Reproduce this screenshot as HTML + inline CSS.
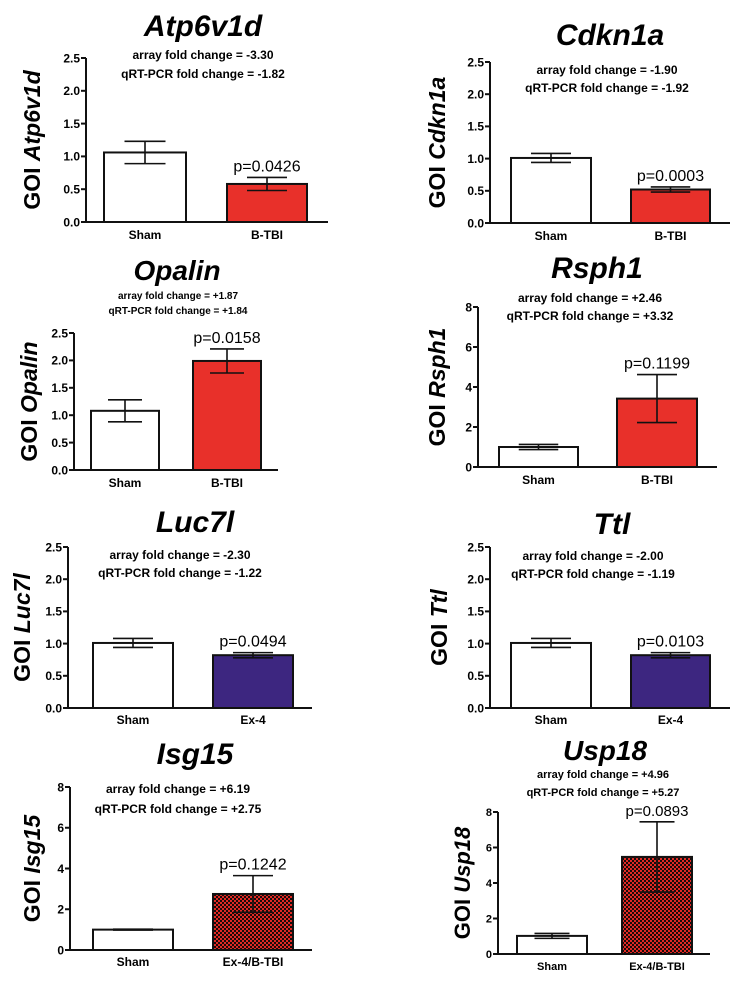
<!DOCTYPE html>
<html><head><meta charset="utf-8"><style>
html,body{margin:0;padding:0;background:#fff;}
svg{display:block;font-family:"Liberation Sans",Arial,sans-serif;}
</style></head><body>
<svg id="fig" width="751" height="986" viewBox="0 0 751 986" xmlns="http://www.w3.org/2000/svg">
<defs>
<pattern id="chk" width="4" height="4" patternUnits="userSpaceOnUse">
<rect width="4" height="4" fill="#e02a24"/><rect width="2" height="2" fill="#1a0a0a"/><rect x="2" y="2" width="2" height="2" fill="#1a0a0a"/>
</pattern>
</defs>
</svg>
<script>
const genes = ["Atp6v1d","Cdkn1a","Opalin","Rsph1","Luc7l","Ttl","Isg15","Usp18"];
const shamMeans = [1.06,1.01,1.08,1.0,1.01,1.01,1.0,1.02];
const shamErrs = [0.17,0.07,0.2,0.13,0.07,0.07,0.02,0.14];
const treatMeans = [0.58,0.52,1.99,3.42,0.82,0.82,2.75,5.47];
const treatErrs = [0.1,0.04,0.22,1.2,0.04,0.04,0.9,1.98];
const pLabels = ["p=0.0426","p=0.0003","p=0.0158","p=0.1199","p=0.0494","p=0.0103","p=0.1242","p=0.0893"];
const treatLabels = ["B-TBI","B-TBI","B-TBI","B-TBI","Ex-4","Ex-4","Ex-4/B-TBI","Ex-4/B-TBI"];
const arrayFC = ["-3.30","-1.90","+1.87","+2.46","-2.30","-2.00","+6.19","+4.96"];
const pcrFC = ["-1.82","-1.92","+1.84","+3.32","-1.22","-1.19","+2.75","+5.27"];
const yMaxes = [2.5,2.5,2.5,8,2.5,2.5,8,8];
const tickSets = [[0,0.5,1,1.5,2,2.5],[0,0.5,1,1.5,2,2.5],[0,0.5,1,1.5,2,2.5],[0,2,4,6,8],[0,0.5,1,1.5,2,2.5],[0,0.5,1,1.5,2,2.5],[0,2,4,6,8],[0,2,4,6,8]];
const treatFills = ["#e8302a","#e8302a","#e8302a","#e8302a","#3d2680","#3d2680","url(#chk)","url(#chk)"];

// layout (pixels)
const L = [
 {ax:86,xe:328,top:58,zero:222,b1:[104,186],b2:[227,307],tx:203,ty:36,ts:30,ax2:203,a1:59,a2:78,as:12,yl:40,ylf:23,pf:16,tk:12,xl:239},
 {ax:490,xe:730,top:62,zero:223,b1:[511,591],b2:[631,710],tx:610,ty:45,ts:30,ax2:607,a1:74,a2:92,as:12,yl:445,ylf:23,pf:16,tk:12,xl:240},
 {ax:74,xe:278,top:333,zero:470,b1:[91,159],b2:[193,261],tx:177,ty:280,ts:28,ax2:178,a1:299,a2:314,as:10,yl:37,ylf:23,pf:16,tk:12,xl:487},
 {ax:478,xe:717,top:307,zero:467,b1:[499,578],b2:[617,697],tx:597,ty:278,ts:30,ax2:590,a1:302,a2:320,as:12,yl:445,ylf:23,pf:16,tk:12,xl:484},
 {ax:68,xe:312,top:547,zero:708,b1:[93,173],b2:[213,293],tx:195,ty:532,ts:30,ax2:180,a1:559,a2:577,as:12,yl:30,ylf:23,pf:16,tk:12,xl:724},
 {ax:490,xe:730,top:547,zero:708,b1:[511,591],b2:[631,710],tx:612,ty:534,ts:30,ax2:593,a1:560,a2:578,as:12,yl:447,ylf:23,pf:16,tk:12,xl:724},
 {ax:70,xe:312,top:787,zero:950,b1:[93,173],b2:[213,293],tx:195,ty:764,ts:30,ax2:178,a1:793,a2:813,as:12,yl:40,ylf:23,pf:16,tk:12,xl:966},
 {ax:498,xe:710,top:812,zero:954,b1:[517,587],b2:[622,692],tx:605,ty:760,ts:28,ax2:603,a1:778,a2:796,as:11,yl:470,ylf:22,pf:15,tk:11,xl:970}
];
const svg = document.getElementById('fig');
const NS = "http://www.w3.org/2000/svg";
function mk(tag, attrs, parent){const e=document.createElementNS(NS,tag);for(const k in attrs)e.setAttribute(k,attrs[k]);(parent||svg).appendChild(e);return e;}
function txt(str, attrs, parent){const e=mk('text',attrs,parent);e.textContent=str;return e;}

genes.forEach((g,i)=>{
  const l=L[i];
  const grp=mk('g',{});
  
  
  const y=v=>l.zero-(v/yMaxes[i])*(l.zero-l.top);
  const t=txt(g,{x:l.tx,y:l.ty,'text-anchor':'middle','font-size':l.ts,'font-weight':'bold','font-style':'italic'},grp);
  
  
  const a1=txt('array fold change = '+arrayFC[i],{x:l.ax2,y:l.a1,'text-anchor':'middle','font-size':l.as,'font-weight':'bold'},grp);
  
  
  const a2=txt('qRT-PCR fold change = '+pcrFC[i],{x:l.ax2,y:l.a2,'text-anchor':'middle','font-size':l.as,'font-weight':'bold'},grp);
  
  
  const cy=(l.top+l.zero)/2;
  const yl=mk('text',{transform:`translate(${l.yl},${cy}) rotate(-90)`,'text-anchor':'middle','font-size':l.ylf,'font-weight':'bold'},grp);
  
  
  const s1=document.createElementNS(NS,'tspan');s1.textContent='GOI ';yl.appendChild(s1);
  const s2=document.createElementNS(NS,'tspan');s2.setAttribute('font-style','italic');s2.textContent=g;yl.appendChild(s2);
  const bars=[[l.b1,shamMeans[i],shamErrs[i],'#fff'],[l.b2,treatMeans[i],treatErrs[i],treatFills[i]]];
  bars.forEach((b,j)=>{
    const [xs,m,e,f]=b;
    const r=mk('rect',{x:xs[0],y:y(m),width:xs[1]-xs[0],height:l.zero-y(m),fill:f,stroke:'#111','stroke-width':2},grp);
    
    
    const cx=(xs[0]+xs[1])/2, hw=(xs[1]-xs[0])*0.25;
    const eb=mk('path',{d:`M${cx},${y(m+e)}V${y(m-e)}M${cx-hw},${y(m+e)}H${cx+hw}M${cx-hw},${y(m-e)}H${cx+hw}`,stroke:'#111','stroke-width':1.6,fill:'none'},grp);
    
    
    const xl=txt(j?treatLabels[i]:'Sham',{x:cx,y:l.xl,'text-anchor':'middle','font-size':l.tk,'font-weight':'bold'},grp);
    
    
    if(j){
      const p=txt(pLabels[i],{x:cx,y:y(m+e)-6,'text-anchor':'middle','font-size':l.pf},grp);
      
      
    }
  });
  const axl=mk('path',{d:`M${l.ax},${l.top}V${l.zero}H${l.xe}`,stroke:'#111','stroke-width':2,fill:'none'},grp);
  
  
  tickSets[i].forEach(v=>{
    const tk=mk('line',{x1:l.ax-5,x2:l.ax,y1:y(v),y2:y(v),stroke:'#111','stroke-width':2},grp);
    
    
    const lab=txt(yMaxes[i]>5?String(v):v.toFixed(1),{x:l.ax-6,y:y(v)+l.tk*0.36,'text-anchor':'end','font-size':l.tk,'font-weight':'bold'},grp);
    
    
  });
});
</script>
</body></html>
